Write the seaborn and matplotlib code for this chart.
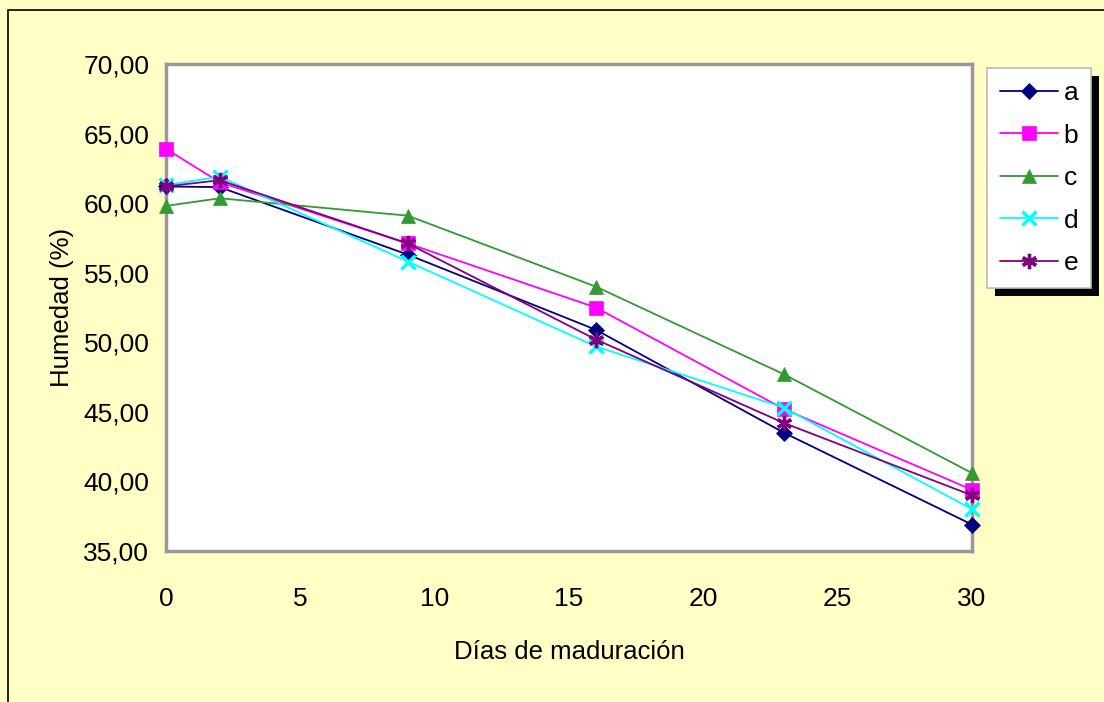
import matplotlib
matplotlib.use("Agg")
import matplotlib.pyplot as plt
from matplotlib.patches import Rectangle
from matplotlib.ticker import FuncFormatter, MultipleLocator
import pandas as pd
import seaborn as sns

# Ripening days and moisture content (%) for each sample
dias = [0, 2, 9, 16, 23, 30]
serie_a = [61.2, 61.15, 56.3, 50.9, 43.5, 36.9]
serie_b = [63.9, 61.5, 57.1, 52.5, 45.2, 39.4]
serie_c = [59.8, 60.35, 59.1, 54.0, 47.7, 40.6]
serie_d = [61.3, 61.9, 55.8, 49.7, 45.3, 38.0]
serie_e = [61.2, 61.65, 57.1, 50.2, 44.2, 39.0]
nombres = ["a", "b", "c", "d", "e"]

df = pd.DataFrame({"dia": dias * 5,
                   "humedad": serie_a + serie_b + serie_c + serie_d + serie_e,
                   "muestra": [n for n in nombres for _ in dias]})

sns.set_style("white")
plt.rcParams["font.family"] = ["Liberation Sans", "DejaVu Sans"]
plt.rcParams["text.color"] = "black"
plt.rcParams["axes.labelcolor"] = "black"
plt.rcParams["xtick.labelcolor"] = "black"
plt.rcParams["ytick.labelcolor"] = "black"

colores = {"a": "#000080", "b": "#FF00FF", "c": "#339933", "d": "#00FFFF", "e": "#800080"}
marcadores = {"a": "D", "b": "s", "c": "^", "d": "x", "e": (6, 2, 0)}
tamanos = {"a": 8, "b": 10, "c": 10, "d": 10, "e": 11}

fig = plt.figure(figsize=(11.04, 7.02), dpi=100)
fig.patch.set_facecolor("#FFFFC6")
# outer frame of the chart area
fig.add_artist(Rectangle((8 / 1104, -0.1), 1.2, (702 - 10) / 702 + 0.1,
                         transform=fig.transFigure, fill=False,
                         edgecolor="black", linewidth=1.2))

ax = fig.add_axes([166 / 1104, (702 - 551) / 702, 806 / 1104, 487 / 702])
ax.set_facecolor("white")

for n in nombres:
    sub = df[df["muestra"] == n]
    sns.lineplot(data=sub, x="dia", y="humedad", ax=ax, color=colores[n],
                 marker=marcadores[n], markersize=tamanos[n],
                 markeredgewidth=2.4 if n in ("d", "e") else 0.5,
                 markeredgecolor=colores[n], linewidth=1.3, label=n,
                 legend=False, clip_on=False, zorder=3)

ax.set_xlim(0, 30)
ax.set_ylim(35, 70)
ax.xaxis.set_major_locator(MultipleLocator(5))
ax.yaxis.set_major_locator(MultipleLocator(5))
ax.yaxis.set_major_formatter(FuncFormatter(lambda v, p: f"{v:.2f}".replace(".", ",")))
ax.tick_params(axis="both", direction="in", length=6, width=1.2, color="#999999",
               labelsize=19, pad=12, labelcolor="black")
ax.tick_params(axis="x", pad=26)
for s in ax.spines.values():
    s.set_color("#999999")
    s.set_linewidth(2.5)

ax.set_xlabel("Días de maduración", fontsize=18.5, labelpad=21, color="black")
ax.set_ylabel("Humedad (%)", fontsize=18.5, labelpad=7, color="black")

leg = ax.legend(loc="upper left", bbox_to_anchor=(987 / 1104, 1 - 68 / 702),
                bbox_transform=fig.transFigure, fontsize=19, frameon=True,
                fancybox=False, edgecolor="#C0C0C0", facecolor="white",
                framealpha=1, handlelength=2.2, handletextpad=0.2,
                labelspacing=0.7, borderpad=0.5, borderaxespad=0,
                labelcolor="black")
leg.get_frame().set_linewidth(1.2)

fig.canvas.draw()
bb = leg.get_window_extent().transformed(fig.transFigure.inverted())
shadow = Rectangle((bb.x0 + 8 / 1104, bb.y0 - 8 / 702), bb.width, bb.height,
                   transform=fig.transFigure, facecolor="black",
                   edgecolor="none", zorder=leg.get_zorder() - 0.5)
fig.add_artist(shadow)
leg.set_zorder(10)
fig.add_artist(leg)

fig.savefig("out.png", dpi=100, facecolor=fig.get_facecolor())
